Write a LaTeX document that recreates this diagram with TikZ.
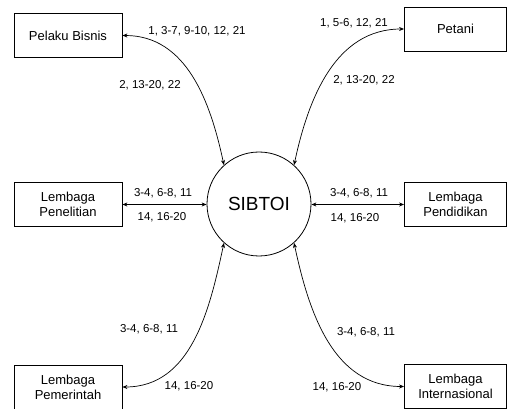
\documentclass[tikz,border=0pt]{standalone}
\usepackage{fontspec}
\setmainfont{Liberation Sans}
\usepackage{tikz}
\usetikzlibrary{arrows.meta,positioning}

\begin{document}
\begin{tikzpicture}
  [
    x=1pt,y=-1pt,
    entity/.style={rectangle,draw=black,line width=0.8pt,minimum width=108pt,minimum height=44pt,
      inner sep=1pt,align=center,font=\fontsize{13}{15}\selectfont},
    process/.style={circle,draw=black,line width=0.8pt,minimum size=104pt,inner sep=0pt,
      font=\fontsize{19}{22}\selectfont},
    flow/.style={{Stealth[length=5pt,width=4pt]}-{Stealth[length=5pt,width=4pt]},line width=0.7pt},
    data/.style={font=\fontsize{11.5}{13}\selectfont,inner sep=1pt}
  ]
  \useasboundingbox (0,0) rectangle (507,409);
  \node[process] (sibtoi) at (259,204) {SIBTOI};
  \node[entity] (bisnis) at (68,35.5) {Pelaku Bisnis};
  \node[entity,minimum width=102pt] (petani) at (455.5,29) {Petani};
  \node[entity] (penelitian) at (68,204.5) {Lembaga\\Penelitian};
  \node[entity,minimum width=102pt] (pendidikan) at (455.5,204.5) {Lembaga\\Pendidikan};
  \node[entity] (pemerintah) at (68,387) {Lembaga\\Pemerintah};
  \node[entity,minimum width=102pt] (internasional) at (455.5,386.5) {Lembaga\\Internasional};
  % aliran data
  \draw [flow] (bisnis.east) to [out=0,in=102] (sibtoi.132);
  \draw [flow] (petani.west) to [out=180,in=78] (sibtoi.48);
  \draw [flow] (penelitian.east) to (sibtoi.west |- penelitian.east);
  \draw [flow] (pendidikan.west) to (sibtoi.east |- pendidikan.west);
  \draw [flow] (pemerintah.east) to [out=0,in=-102] (sibtoi.228);
  \draw [flow] (internasional.west) to [out=180,in=-78] (sibtoi.312);
  % label
  \node[data] (bisnis in) at (197,31) {1, 3-7, 9-10, 12, 21};
  \node[data] (bisnis out) at (150,85) {2, 13-20, 22};
  \node[data] (petani in) at (354,23) {1, 5-6, 12, 21};
  \node[data] (petani out) at (364,80) {2, 13-20, 22};
  \node[data] (penelitian in) at (163,193) {3-4, 6-8, 11};
  \node[data] (penelitian out) at (162,217) {14, 16-20};
  \node[data] (pendidikan in) at (359,193) {3-4, 6-8, 11};
  \node[data] (pendidikan out) at (355,218) {14, 16-20};
  \node[data] (pemerintah in) at (149,329) {3-4, 6-8, 11};
  \node[data] (pemerintah out) at (189,386) {14, 16-20};
  \node[data] (internasional in) at (366,332) {3-4, 6-8, 11};
  \node[data] (internasional out) at (337,387) {14, 16-20};
\end{tikzpicture}
\end{document}
